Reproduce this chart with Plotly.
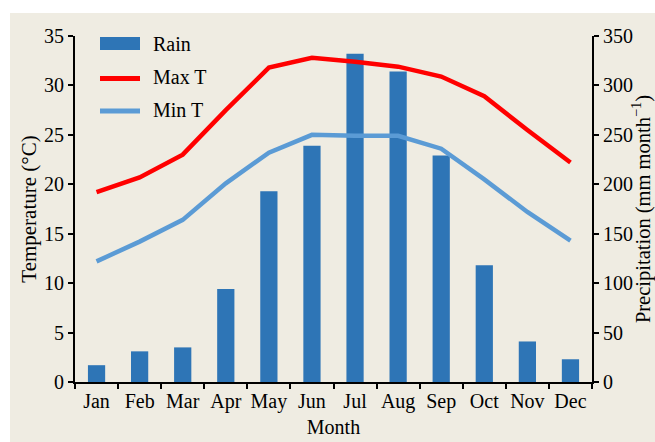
import plotly.graph_objects as go

months = ["Jan", "Feb", "Mar", "Apr", "May", "Jun",
          "Jul", "Aug", "Sep", "Oct", "Nov", "Dec"]
rain = [17, 31, 35, 94, 193, 239, 332, 314, 229, 118, 41, 23]
max_t = [19.2, 20.7, 23.0, 27.5, 31.8, 32.8, 32.4, 31.9, 30.9, 28.9, 25.5, 22.2]
min_t = [12.2, 14.2, 16.4, 20.1, 23.2, 25.0, 24.9, 24.9, 23.6, 20.5, 17.2, 14.3]

series_names = ["Rain", "Max T", "Min T"]
series_colors = ["#2e75b6", "#ff0000", "#5b9bd5"]

FONT = "Liberation Serif, Times New Roman, serif"
BG = "#efece2"

# plot-area geometry in pixels, used to place paper-referenced decorations
W, H = 655, 442
L, R, T, B = 75, 63, 36, 60
PW, PH = W - L - R, H - T - B


def px(x):
    return (x - L) / PW


def py(y):
    return (H - B - y) / PH


fig = go.Figure()

# Precipitation bars on the primary axis (drawn on the right side)
fig.add_trace(go.Bar(
    x=months, y=rain, name=series_names[0], yaxis="y",
    marker=dict(color=series_colors[0], line=dict(width=0)), width=0.4,
))
# Temperature lines on the overlaying axis (drawn on the left side)
fig.add_trace(go.Scatter(
    x=months, y=max_t, name=series_names[1], yaxis="y2", mode="lines",
    line=dict(color=series_colors[1], width=4.5),
))
fig.add_trace(go.Scatter(
    x=months, y=min_t, name=series_names[2], yaxis="y2", mode="lines",
    line=dict(color=series_colors[2], width=4.5),
))

axis_common = dict(
    showline=True, linecolor="black", linewidth=2,
    ticks="outside", ticklen=5, tickwidth=2, tickcolor="black",
    showgrid=False, zeroline=False, automargin=False,
    tickfont=dict(family=FONT, size=20, color="black"),
)

# Legend drawn as swatches + labels inside the upper-left of the plot
shapes = [dict(
    type="rect", xref="paper", yref="paper", layer="below",
    x0=px(10), x1=px(W), y0=py(H), y1=py(13),
    fillcolor=BG, line=dict(width=0),
)]
shapes.append(dict(
    type="rect", xref="paper", yref="paper",
    x0=px(100), x1=px(140), y0=py(50), y1=py(37),
    fillcolor=series_colors[0], line=dict(width=0),
))
for i, yy in ((1, 78.5), (2, 111)):
    shapes.append(dict(
        type="line", xref="paper", yref="paper",
        x0=px(100), x1=px(140), y0=py(yy), y1=py(yy),
        line=dict(color=series_colors[i], width=5),
    ))
annotations = []
for name, yy in zip(series_names, (44, 77, 110)):
    annotations.append(dict(
        text=name, xref="paper", yref="paper", x=px(151), y=py(yy),
        xanchor="left", yanchor="middle", showarrow=False,
        font=dict(family=FONT, size=20, color="black"),
    ))

fig.update_layout(
    width=W, height=H,
    margin=dict(l=L, r=R, t=T, b=B),
    paper_bgcolor="white",
    plot_bgcolor="rgba(0,0,0,0)",
    font=dict(family=FONT, size=20, color="black"),
    showlegend=False,
    xaxis=dict(
        **axis_common, tickson="boundaries", tickangle=0,
        title=dict(text="Month", font=dict(family=FONT, size=20), standoff=8),
        range=[-0.5, 11.5],
    ),
    yaxis=dict(
        **axis_common, side="right", range=[0, 350], dtick=50,
        title=dict(text="Precipitation (mm month<sup>−1</sup>)",
                   font=dict(family=FONT, size=20.5), standoff=6),
    ),
    yaxis2=dict(
        **axis_common, side="left", overlaying="y", range=[0, 35], dtick=5,
        title=dict(text="Temperature (°C)", font=dict(family=FONT, size=21),
                   standoff=2),
    ),
    shapes=shapes,
    annotations=annotations,
)

fig.write_html("out.html")
